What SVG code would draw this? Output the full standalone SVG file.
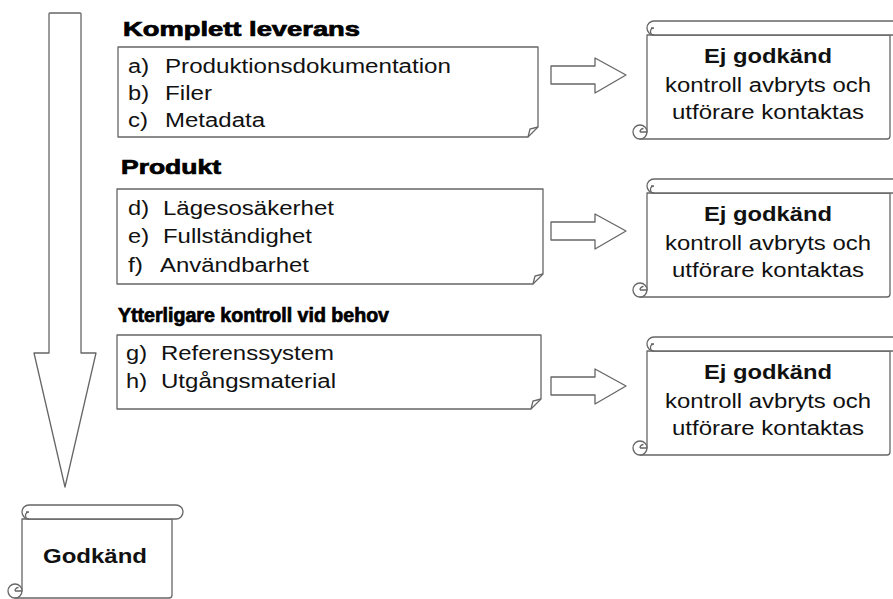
<svg xmlns="http://www.w3.org/2000/svg" width="893" height="599" viewBox="0 0 893 599">
<style>
.ln{fill:#fff;stroke:#666;stroke-width:1.3;stroke-linejoin:round}
.nf{fill:none;stroke:#666;stroke-width:1.3}
.t{font-family:"Liberation Sans",Arial,sans-serif;font-size:20px;fill:#111}
.h{font-family:"Liberation Sans",Arial,sans-serif;font-size:19.5px;font-weight:bold;fill:#000;stroke:#000;stroke-width:0.7}
.b{font-family:"Liberation Sans",Arial,sans-serif;font-size:20px;font-weight:bold;fill:#111}
.c{text-anchor:middle}
</style>
<rect width="893" height="599" fill="#fff"/>
<g id="connectors">
<path class="ln" d="M49 14 Q49 13 50 13 H80 Q81 13 81 14 V353 H96 L65 487 L34 353 H49 Z"/>
<path class="ln" d="M551 66 H595 V58 L626 75 L595 93 V84 H551 Z"/>
<path class="ln" d="M551 222 H595 V214 L626 231 L595 249 V240 H551 Z"/>
<path class="ln" d="M551 377 H595 V369 L626 386 L595 404 V395 H551 Z"/>
</g>
<g id="box1">
<text class="h" x="123" y="36" textLength="237" lengthAdjust="spacingAndGlyphs">Komplett leverans</text>
<path class="ln" d="M118 47 H538 V127 L528 137 H118 Z"/>
<path class="nf" d="M528 137 L530 129 L538 127"/>
<text class="t" x="128" y="73" textLength="21" lengthAdjust="spacingAndGlyphs">a)</text>
<text class="t" x="165" y="73" textLength="286" lengthAdjust="spacingAndGlyphs">Produktionsdokumentation</text>
<text class="t" x="128" y="100" textLength="21" lengthAdjust="spacingAndGlyphs">b)</text>
<text class="t" x="165" y="100" textLength="47" lengthAdjust="spacingAndGlyphs">Filer</text>
<text class="t" x="128" y="127" textLength="20" lengthAdjust="spacingAndGlyphs">c)</text>
<text class="t" x="165" y="127" textLength="100" lengthAdjust="spacingAndGlyphs">Metadata</text>
</g>
<g id="box2">
<text class="h" x="121" y="174" textLength="100" lengthAdjust="spacingAndGlyphs">Produkt</text>
<path class="ln" d="M117 189 H543 V274 L533 284 H117 Z"/>
<path class="nf" d="M533 284 L535 276 L543 274"/>
<text class="t" x="128" y="215" textLength="21" lengthAdjust="spacingAndGlyphs">d)</text>
<text class="t" x="163" y="215" textLength="171" lengthAdjust="spacingAndGlyphs">Lägesosäkerhet</text>
<text class="t" x="128" y="243" textLength="21" lengthAdjust="spacingAndGlyphs">e)</text>
<text class="t" x="163" y="243" textLength="149" lengthAdjust="spacingAndGlyphs">Fullständighet</text>
<text class="t" x="128" y="272" textLength="15" lengthAdjust="spacingAndGlyphs">f)</text>
<text class="t" x="160" y="272" textLength="149" lengthAdjust="spacingAndGlyphs">Användbarhet</text>
</g>
<g id="box3">
<text class="h" x="118" y="322" textLength="271" lengthAdjust="spacingAndGlyphs">Ytterligare kontroll vid behov</text>
<path class="ln" d="M117 335 H541 V399 L531 409 H117 Z"/>
<path class="nf" d="M531 409 L533 401 L541 399"/>
<text class="t" x="126" y="360" textLength="21" lengthAdjust="spacingAndGlyphs">g)</text>
<text class="t" x="161" y="360" textLength="173" lengthAdjust="spacingAndGlyphs">Referenssystem</text>
<text class="t" x="126" y="388" textLength="21" lengthAdjust="spacingAndGlyphs">h)</text>
<text class="t" x="161" y="388" textLength="175" lengthAdjust="spacingAndGlyphs">Utgångsmaterial</text>
</g>
<defs>
<g id="scroll">
<!-- local coords: L=0, T=0, body left 14, body right 257, bottom 118 -->
<path class="ln" d="M14 14 V111 A7 7 0 0 0 7 118 H254 Q257 118 257 115 V14 Z"/>
<rect class="ln" x="14" y="0" width="254" height="14" rx="7"/>
<path class="nf" d="M21 14 A3.5 3.5 0 1 1 21 7 H18"/>
<circle class="ln" cx="7" cy="111" r="7"/>
<path class="nf" d="M7 111 H14 M7 111 A3.5 3.5 0 0 1 10.5 107.5"/>
</g>
</defs>
<g id="scroll1">
<use href="#scroll" x="633" y="21"/>
<text class="b c" x="768" y="63" textLength="128" lengthAdjust="spacingAndGlyphs">Ej godkänd</text>
<text class="t c" x="768" y="92" textLength="206" lengthAdjust="spacingAndGlyphs">kontroll avbryts och</text>
<text class="t c" x="768" y="119" textLength="192" lengthAdjust="spacingAndGlyphs">utförare kontaktas</text>
</g>
<g id="scroll2">
<use href="#scroll" x="633" y="179"/>
<text class="b c" x="768" y="221" textLength="128" lengthAdjust="spacingAndGlyphs">Ej godkänd</text>
<text class="t c" x="768" y="250" textLength="206" lengthAdjust="spacingAndGlyphs">kontroll avbryts och</text>
<text class="t c" x="768" y="277" textLength="192" lengthAdjust="spacingAndGlyphs">utförare kontaktas</text>
</g>
<g id="scroll3">
<use href="#scroll" x="633" y="337"/>
<text class="b c" x="768" y="379" textLength="128" lengthAdjust="spacingAndGlyphs">Ej godkänd</text>
<text class="t c" x="768" y="408" textLength="206" lengthAdjust="spacingAndGlyphs">kontroll avbryts och</text>
<text class="t c" x="768" y="435" textLength="192" lengthAdjust="spacingAndGlyphs">utförare kontaktas</text>
</g>
<g id="godkand">
<path class="ln" d="M22 519 V591 A7 7 0 0 0 15 598 H169 Q172 598 172 595 V519 Z"/>
<rect class="ln" x="22" y="505" width="161" height="14" rx="7"/>
<path class="nf" d="M29 519 A3.5 3.5 0 1 1 29 512 H26"/>
<circle class="ln" cx="15" cy="591" r="7"/>
<path class="nf" d="M15 591 H22 M15 591 A3.5 3.5 0 0 1 18.5 587.5"/>
<text class="b c" x="95" y="563" textLength="104" lengthAdjust="spacingAndGlyphs">Godkänd</text>
</g>
</svg>
